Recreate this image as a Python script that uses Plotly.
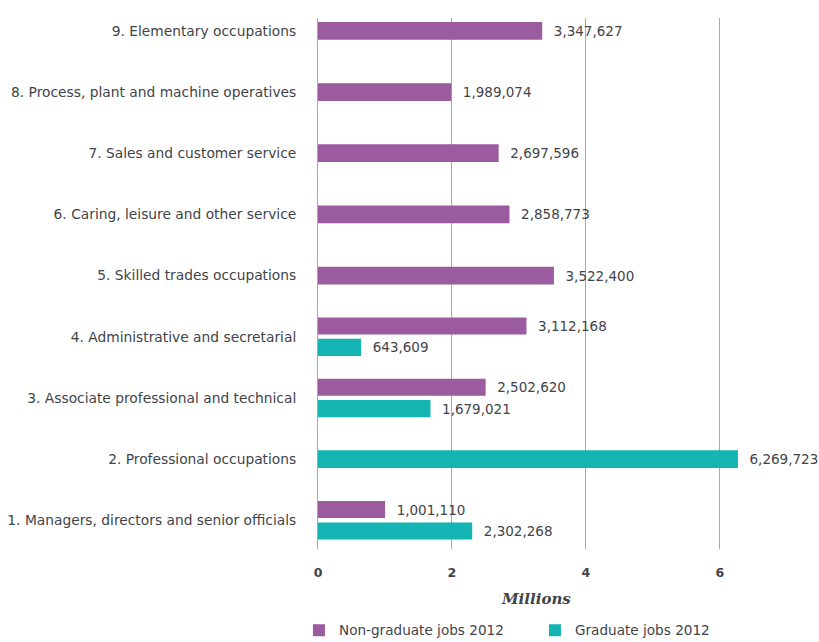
import plotly.graph_objects as go

# ---- dados ----
categorias = ["1. Managers, directors and senior officials",
              "2. Professional occupations",
              "3. Associate professional and technical",
              "4. Administrative and secretarial",
              "5. Skilled trades occupations",
              "6. Caring, leisure and other service",
              "7. Sales and customer service",
              "8. Process, plant and machine operatives",
              "9. Elementary occupations"]
nao_grad = [1001110, None, 2502620, 3112168, 3522400, 2858773, 2697596, 1989074, 3347627]
grad = [2302268, 6269723, 1679021, 643609, None, None, None, None, None]
series_nomes = ["Non-graduate jobs 2012", "Graduate jobs 2012"]
tick_vals = [0, 2000000, 4000000, 6000000]
tick_txt = ["0", "2", "4", "6"]

ROXO = "#9B5B9F"
VERDE = "#14B4B3"
TXT = "#3F4449"
FONTE = "DejaVu Sans, Liberation Sans"
W1, W2, GAP = 0.29, 0.28, 0.035

# offsets: barra unica fica centrada, par fica lado a lado
off_ng, off_g = [], []
for a, b in zip(nao_grad, grad):
    if a is not None and b is not None:
        off_ng.append(GAP); off_g.append(-GAP - W2)
    else:
        off_ng.append(-W1/2); off_g.append(-W1/2)
wid_ng = [W2 if (a is not None and b is not None) else W1 for a, b in zip(nao_grad, grad)]
wid_g = wid_ng

fig = go.Figure()
for vals, nome, cor, off, wid in [(nao_grad, series_nomes[0], ROXO, off_ng, wid_ng),
                                  (grad, series_nomes[1], VERDE, off_g, wid_g)]:
    fig.add_trace(go.Bar(y=categorias, x=vals, name=nome, orientation="h",
        marker=dict(color=cor, line=dict(width=0)), offset=off, width=wid,
        text=[("\u00a0\u00a0" + f"{v:,}") if v is not None else "" for v in vals],
        textposition="outside", cliponaxis=False,
        textfont=dict(family=FONTE, size=13.5, color=TXT)))

fig.update_layout(width=819, height=642, barmode="overlay",
    plot_bgcolor="white", paper_bgcolor="white",
    margin=dict(l=318, r=0, t=18, b=93, autoexpand=False),
    font=dict(family=FONTE, size=14, color=TXT),
    legend=dict(orientation="h", x=-0.038, xanchor="left", y=-0.124, yanchor="top",
                font=dict(size=13.6, color=TXT), entrywidth=191, traceorder="normal"),
    showlegend=True)
fig.add_annotation(text="<b><i>Millions</i></b>", xref="paper", yref="paper",
    x=0.435, y=-0.095, xanchor="center", yanchor="middle", showarrow=False,
    font=dict(family="DejaVu Serif, Georgia", size=15, color=TXT))
fig.update_xaxes(range=[0, 7480000], tickvals=tick_vals, ticktext=tick_txt,
    showgrid=True, gridcolor="#A8A8A8", gridwidth=1, zeroline=False,
    showline=False, ticks="", ticklabelstandoff=14,
    tickfont=dict(family=FONTE, size=12.5, color=TXT, weight="bold"))
fig.update_yaxes(range=[-0.47, 8.21], showgrid=False, showline=True, linecolor="#A8A8A8",
    linewidth=1, ticks="", ticklabelstandoff=18,
    tickfont=dict(family=FONTE, size=13.8, color=TXT))
fig.write_html("out.html", config={"displayModeBar": False},
               post_script="document.body.style.margin='0';")
